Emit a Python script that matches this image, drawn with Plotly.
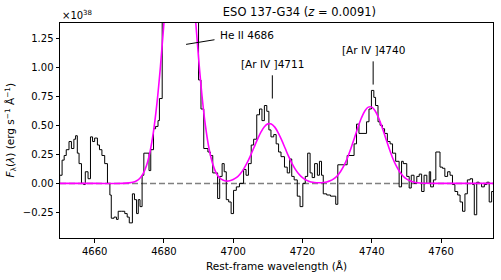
import plotly.graph_objects as go

# ---- observed spectrum (step histogram): bin start wavelength and flux (x1e38)
wave = [4649.4, 4649.9, 4650.6, 4651.2, 4651.8, 4652.6, 4653.3, 4654.0, 4654.5, 4655.0,
        4655.5, 4656.2, 4656.8, 4657.3, 4658.1, 4658.8, 4659.4, 4660.0, 4660.8, 4661.4,
        4662.1, 4662.9, 4663.7, 4664.4, 4664.8, 4665.6, 4666.3, 4666.8, 4667.7, 4668.7,
        4669.4, 4670.0, 4670.9, 4671.5, 4672.1, 4672.6, 4673.1, 4673.7, 4674.2, 4675.7,
        4676.2, 4677.0, 4677.6, 4678.3, 4678.7, 4679.5, 4680.2, 4681.0, 4682.0, 4683.0,
        4684.0, 4685.0, 4686.0, 4687.0, 4688.0, 4689.0, 4690.0, 4690.7, 4691.5, 4692.7,
        4693.4, 4694.1, 4695.5, 4696.1, 4696.8, 4697.4, 4698.0, 4698.7, 4699.4, 4700.1,
        4700.9, 4701.8, 4703.0, 4703.7, 4704.4, 4705.2, 4705.9, 4706.8, 4707.6, 4708.3,
        4709.0, 4709.7, 4710.3, 4710.9, 4711.7, 4712.4, 4713.1, 4713.8, 4714.8, 4715.6,
        4716.3, 4716.9, 4717.6, 4718.5, 4719.3, 4720.1, 4720.8, 4721.5, 4722.2, 4722.8,
        4723.5, 4724.3, 4724.9, 4725.5, 4726.0, 4727.0, 4728.1, 4729.6, 4730.2, 4732.9,
        4734.9, 4735.6, 4736.3, 4738.5, 4739.2, 4739.9, 4740.6, 4741.1, 4741.8, 4742.4,
        4743.1, 4743.7, 4744.5, 4745.3, 4746.0, 4746.9, 4747.9, 4748.6, 4749.1, 4750.1,
        4750.8, 4751.4, 4752.2, 4753.0, 4753.7, 4754.4, 4755.1, 4755.9, 4756.6, 4757.0,
        4757.8, 4758.5, 4759.7, 4760.4, 4761.1, 4761.9, 4762.6, 4763.3, 4764.0, 4764.8,
        4765.5, 4766.2, 4766.9, 4767.6, 4768.4, 4769.1, 4769.6, 4770.3, 4771.0, 4771.7,
        4772.5, 4773.2, 4773.9, 4774.6, 4775.4]
flux = [0.00, 0.07, 0.20, 0.24, 0.29, 0.36, 0.30, 0.38, 0.41, 0.26,
        0.17, 0.00, -0.01, 0.10, 0.04, 0.40, 0.36, 0.39, 0.33, 0.29,
        0.24, 0.17, 0.00, -0.10, -0.30, -0.29, -0.31, -0.24, -0.24, -0.26,
        -0.29, -0.34, -0.09, -0.14, -0.26, -0.14, -0.20, 0.07, 0.26, 0.11,
        0.29, 0.47, 0.49, 0.54, 0.73, 1.60, 2.10, 2.50, 2.80, 3.00,
        3.10, 3.00, 2.80, 2.50, 2.00, 1.60, 0.89, 0.64, 0.30, 0.27,
        0.24, 0.09, -0.13, 0.06, 0.17, 0.10, -0.14, -0.16, -0.26, -0.06,
        -0.03, 0.00, 0.12, 0.07, 0.17, 0.33, 0.38, 0.59, 0.64, 0.54,
        0.67, 0.62, 0.46, 0.40, 0.42, 0.34, 0.27, 0.23, 0.14, 0.09,
        0.21, 0.06, 0.03, -0.11, -0.20, 0.00, 0.06, 0.26, 0.09, 0.05,
        0.17, 0.07, 0.19, 0.07, -0.09, -0.10, -0.11, -0.18, 0.16, 0.24,
        0.34, 0.51, 0.43, 0.53, 0.64, 0.80, 0.74, 0.67, 0.53, 0.50,
        0.47, 0.43, 0.36, 0.34, 0.26, 0.19, -0.03, 0.19, 0.17, 0.06,
        -0.04, 0.07, 0.00, 0.06, 0.08, -0.07, 0.07, 0.00, 0.10, -0.03,
        0.03, 0.27, 0.14, 0.13, 0.06, 0.10, 0.07, -0.01, -0.07, -0.10,
        -0.16, -0.24, -0.09, 0.03, 0.04, -0.01, -0.27, 0.01, 0.00, -0.03,
        -0.01, 0.01, -0.16, -0.07, -0.07]

# ---- Gaussian fit curve (magenta)
fit_wave = [4650, 4660, 4668, 4670, 4671, 4672, 4673, 4674, 4675, 4676, 4677, 4678, 4679,
            4680, 4681, 4682, 4683, 4684, 4685, 4686, 4687, 4688, 4689, 4690, 4691, 4692,
            4693, 4694, 4695, 4696, 4697, 4698, 4699, 4700, 4701, 4702, 4703, 4704, 4705,
            4706, 4707, 4708, 4709, 4710, 4711, 4712, 4713, 4714, 4715, 4716, 4717, 4718,
            4719, 4720, 4721, 4722, 4723, 4724, 4725, 4726, 4727, 4728, 4729, 4730, 4731,
            4732, 4733, 4734, 4735, 4736, 4737, 4738, 4739, 4740, 4741, 4742, 4743, 4744,
            4745, 4746, 4747, 4748, 4749, 4750, 4751, 4752, 4753, 4755, 4760, 4775]
fit_flux = [0.0, 0.0, 0.0, 0.004, 0.009, 0.020, 0.042, 0.084, 0.156, 0.273, 0.449, 0.692, 1.008,
            1.379, 1.775, 2.146, 2.44, 2.61, 2.627, 2.486, 2.212, 1.851, 1.458, 1.080, 0.752, 0.492,
            0.303, 0.176, 0.095, 0.049, 0.029, 0.020, 0.022, 0.033, 0.051, 0.081, 0.123, 0.176, 0.239,
            0.309, 0.379, 0.441, 0.488, 0.512, 0.511, 0.484, 0.435, 0.372, 0.302, 0.232, 0.170, 0.118,
            0.078, 0.049, 0.029, 0.016, 0.009, 0.006, 0.005, 0.007, 0.012, 0.022, 0.038, 0.064, 0.102,
            0.154, 0.221, 0.302, 0.391, 0.481, 0.562, 0.623, 0.656, 0.656, 0.623, 0.562, 0.481, 0.391,
            0.302, 0.221, 0.154, 0.102, 0.064, 0.038, 0.022, 0.012, 0.006, 0.001, 0.0, 0.0]

x_ticks = [4660, 4680, 4700, 4720, 4740, 4760]
y_ticks = [-0.25, 0.00, 0.25, 0.50, 0.75, 1.00, 1.25]

FONT = "DejaVu Sans"

fig = go.Figure()
fig.add_trace(go.Scatter(x=[4650, 4775], y=[0, 0], mode="lines",
                         line=dict(color="#808080", width=1.5, dash="6px,3px"),
                         hoverinfo="skip", showlegend=False))
fig.add_trace(go.Scatter(x=wave, y=flux, mode="lines", line_shape="hv",
                         line=dict(color="black", width=1), showlegend=False))
fig.add_trace(go.Scatter(x=fit_wave, y=fit_flux, mode="lines", line_shape="spline",
                         line=dict(color="#ff00ff", width=1.6), showlegend=False))

# line-marker annotations
marks = [
    dict(x0=4686.4, y0=1.196, x1=4694.6, y1=1.236),
    dict(x0=4711.3, y0=0.93, x1=4711.3, y1=0.73),
    dict(x0=4740.4, y0=1.05, x1=4740.4, y1=0.85),
]
for m in marks:
    fig.add_shape(type="line", xref="x", yref="y", line=dict(color="black", width=1), **m)

fig.add_annotation(x=4695.5, y=1.28, text="He II 4686", showarrow=False,
                   xanchor="left", yanchor="middle", font=dict(size=10.5, family=FONT, color="black"))
fig.add_annotation(x=4711.3, y=1.03, text="[Ar IV ]4711", showarrow=False,
                   xanchor="center", yanchor="middle", font=dict(size=10.5, family=FONT, color="black"))
fig.add_annotation(x=4740.5, y=1.145, text="[Ar IV ]4740", showarrow=False,
                   xanchor="center", yanchor="middle", font=dict(size=10.5, family=FONT, color="black"))
fig.add_annotation(x=0, y=1, xref="paper", yref="paper", text="×10<sup>38</sup>",
                   showarrow=False, xanchor="left", yanchor="bottom", yshift=0,
                   font=dict(size=10, family=FONT, color="black"))
# axis titles as annotations (fixed positions)
fig.add_annotation(x=0.5, y=0, xref="paper", yref="paper", text="Rest-frame wavelength (Å)",
                   showarrow=False, xanchor="center", yanchor="middle", yshift=-28,
                   font=dict(size=10.5, family=FONT, color="black"))
fig.add_annotation(x=0, y=0.5, xref="paper", yref="paper",
                   text="<i>F</i><sub>λ</sub>(<i>λ</i>) (erg s<sup>−1</sup> Å<sup>−1</sup>)",
                   showarrow=False, xanchor="center", yanchor="middle", xshift=-50, textangle=-90,
                   font=dict(size=10.5, family=FONT, color="black"))

fig.update_layout(
    width=501, height=280,
    margin=dict(l=60, r=7.5, t=22.5, b=42, autoexpand=False),
    paper_bgcolor="white", plot_bgcolor="white",
    font=dict(family=FONT, size=10, color="black"),
    title=dict(text="ESO 137-G34 (<i>z</i> = 0.0091)", x=0.553, xanchor="center",
               xref="paper", y=1 - 12 / 280, yref="container", yanchor="middle",
               font=dict(size=11.5, family=FONT, color="black")),
    showlegend=False,
)
fig.update_xaxes(range=[4650, 4775], tickvals=x_ticks, ticks="outside", ticklen=3.5,
                 tickcolor="black", showline=True, linecolor="black", linewidth=1, mirror=True,
                 showgrid=False, zeroline=False, automargin=False)
fig.update_yaxes(range=[-0.47, 1.38], tickvals=y_ticks, tickformat=".2f", ticks="outside",
                 ticklen=3.5, tickcolor="black", showline=True, linecolor="black", linewidth=1,
                 mirror=True, showgrid=False, zeroline=False, automargin=False)

fig.write_html("out.html", config={"displayModeBar": False},
               post_script="document.body.style.margin='0';document.body.style.overflow='hidden';")
